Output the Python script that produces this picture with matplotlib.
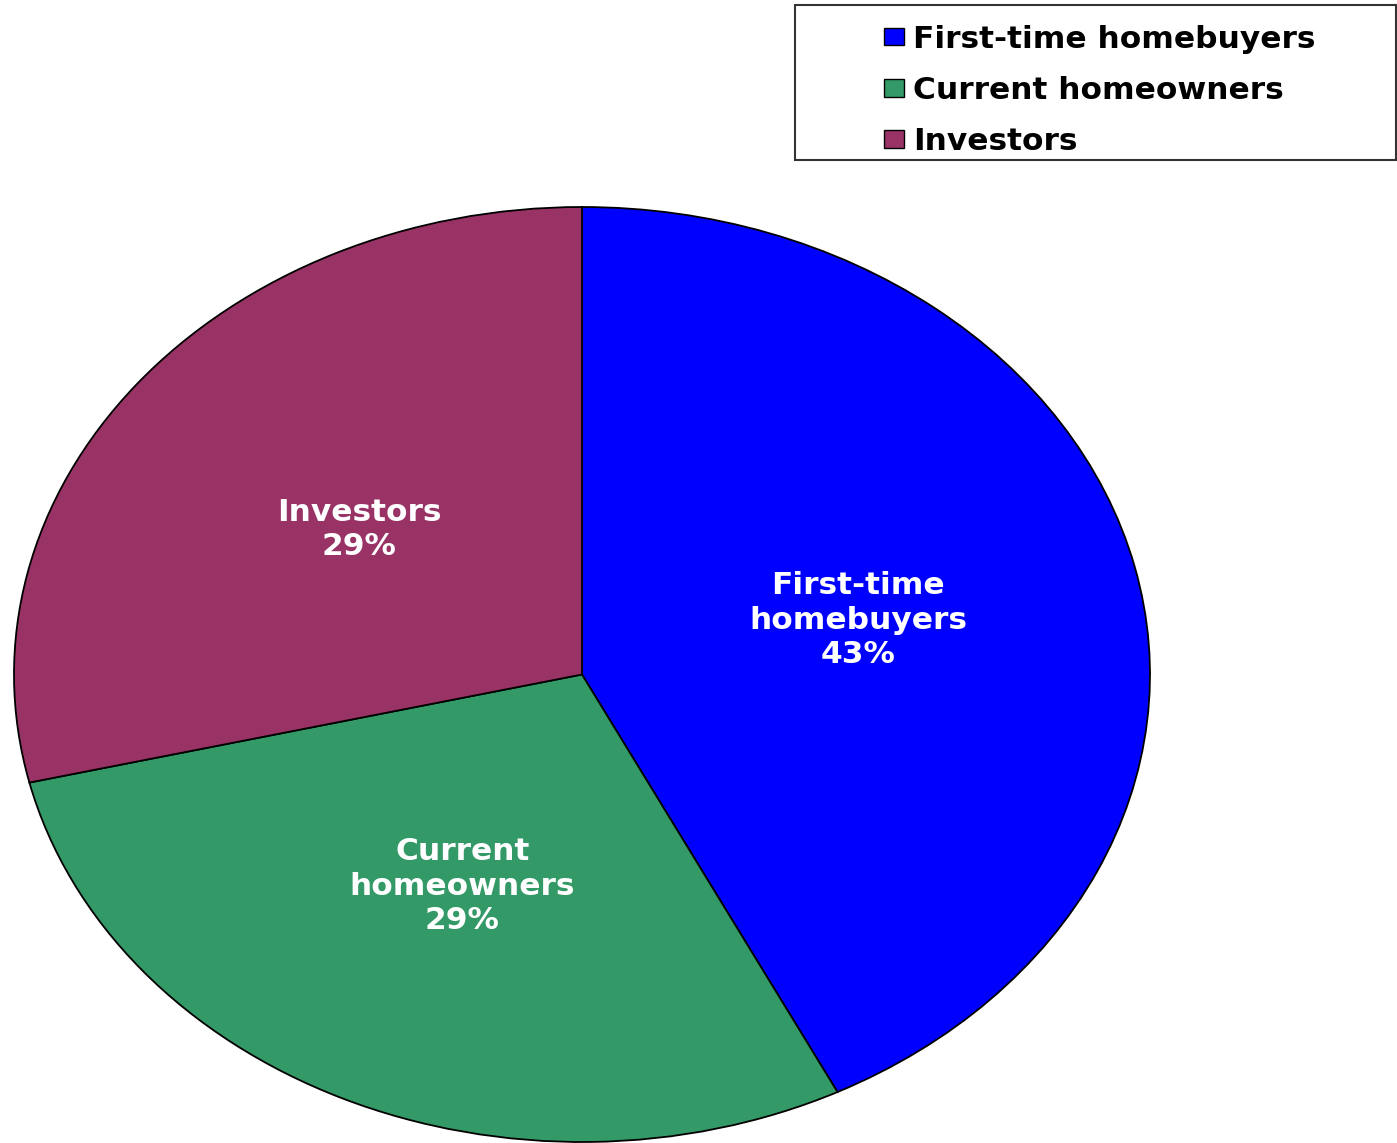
import numpy as np
import matplotlib
matplotlib.use('Agg')
import matplotlib.pyplot as plt
from matplotlib.patches import Rectangle

# buyer mix
groups = ['First-time homebuyers', 'Current homeowners', 'Investors']
wedge_labels = ['First-time\nhomebuyers', 'Current\nhomeowners', 'Investors']
shares = [43, 29, 29]
colors = ['#0000FF', '#339966', '#993366']

W, H = 1397, 1143
fig = plt.figure(figsize=(W / 100, H / 100), dpi=100)
fig.patch.set_facecolor('white')

# pie is stretched sideways, so the axes get the ellipse's box
ax = fig.add_axes([14 / W, 1 / H, 1136 / W, 935 / H])
wedges, _ = ax.pie(shares, colors=colors, startangle=90, counterclock=False,
                   wedgeprops=dict(edgecolor='black', linewidth=1.3))
ax.set_aspect('auto')
ax.set_xlim(-1, 1)
ax.set_ylim(-1, 1)
ax.axis('off')
for w in wedges:
    w.set_clip_on(False)

# labels halfway out along each wedge's middle angle
for w, name, val in zip(wedges, wedge_labels, shares):
    mid = np.deg2rad((w.theta1 + w.theta2) / 2)
    ax.text(0.5 * np.cos(mid), 0.5 * np.sin(mid), f'{name}\n{val}%',
            ha='center', va='center', multialignment='center',
            color='white', fontsize=22.5, fontweight='bold',
            family='DejaVu Sans', linespacing=1.24)

# legend box in the top right corner
fig.add_artist(Rectangle((795 / W, 1 - 160 / H), 601 / W, 155 / H,
                         transform=fig.transFigure, fill=False,
                         edgecolor='#333333', linewidth=1.5))
leg = fig.legend(wedges, groups, loc='upper left',
                 bbox_to_anchor=(868 / W, 1 - 9 / H), frameon=False,
                 prop=dict(family='DejaVu Sans', weight='bold', size=22.5),
                 handlelength=0.65, handleheight=0.5, handletextpad=0.3,
                 labelspacing=0.71, borderpad=0)
for h in leg.legend_handles:
    h.set_edgecolor('black')
    h.set_linewidth(1.0)

fig.savefig('out.png', dpi=100)
